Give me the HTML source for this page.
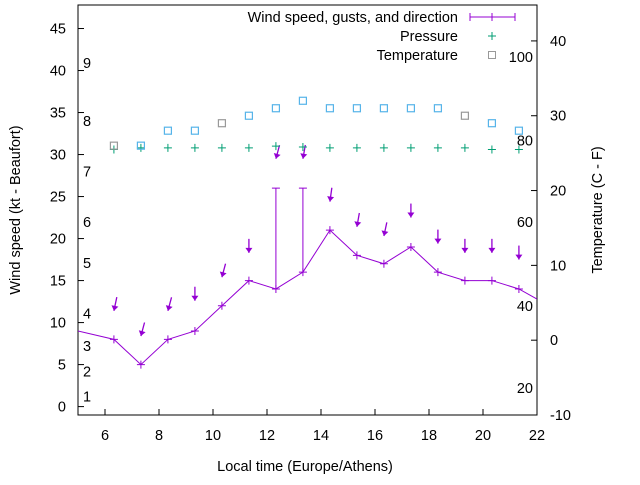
<!DOCTYPE html>
<html><head><meta charset="utf-8"><style>
body{margin:0;background:#fff}
svg text{font-family:"Liberation Sans",sans-serif;font-size:14.5px;fill:#000}
</style></head><body>
<svg width="640" height="480" viewBox="0 0 640 480" id="chart"></svg>
<script>
const hours=[6.33,7.33,8.33,9.33,10.33,11.33,12.33,13.33,14.33,15.33,16.33,17.33,18.33,19.33,20.33,21.33];
const lineHours=[5,6.33,7.33,8.33,9.33,10.33,11.33,12.33,13.33,14.33,15.33,16.33,17.33,18.33,19.33,20.33,21.33,22];
const windSpeed=[9,8,5,8,9,12,15,14,16,21,18,17,19,16,15,15,14,12.8];
const gustHours=[12.33,13.33];
const gustBase=[14,16];
const gustTop=[26,26];
const arrowPos=[11.4,8.4,11.4,12.6,15.4,18.3,29.5,29.5,24.4,21.4,20.3,22.5,19.4,18.3,18.3,17.5];
const arrowTilt=[-12,-15,-15,0,-15,0,-15,-10,-8,-10,-12,0,0,0,0,0];
const pressure=[30.6,30.8,30.8,30.8,30.8,30.8,31.0,30.9,30.8,30.8,30.8,30.8,30.8,30.8,30.6,30.6,30.8];
const pressureHours=[6.33,7.33,8.33,9.33,10.33,11.33,12.33,13.33,14.33,15.33,16.33,17.33,18.33,19.33,20.33,21.33];
const temperature=[26,26,28,28,29,30,31,32,31,31,31,31,31,30,29,28];
const tempGrey=[1,0,0,0,1,0,0,0,0,0,0,0,0,1,0,0];
const xTicks=[6,8,10,12,14,16,18,20,22];
const yTicks=[0,5,10,15,20,25,30,35,40,45];
const y2Ticks=[-10,0,10,20,30,40];
const beaufortLabels=["1","2","3","4","5","6","7","8","9"];
const beaufortY=[1.2,4.2,7.2,11.1,17.1,22,28,34,40.9];
const humidLabels=["20","40","60","80","100"];
const humidY=[2.2,12,22,31.7,41.6];

const L=78,R=537,T=5,B=415;
const X=h=>L+(h-5)*(R-L)/17;
const Y=v=>B-(v+1)*(B-T)/48.8;
const Y2=v=>B-(v+10)*(B-T)/54.8;
const svg=document.getElementById('chart');
const NS="http://www.w3.org/2000/svg";
function mk(tag,attrs,parent){const e=document.createElementNS(NS,tag);for(const k in attrs)e.setAttribute(k,attrs[k]);(parent||svg).appendChild(e);return e;}
const P="#9400d3";

const frame=mk('rect',{x:L,y:T,width:R-L,height:B-T,fill:'none',stroke:'#000','stroke-width':1});



xTicks.forEach(t=>{
 const l=mk('line',{x1:X(t),x2:X(t),y1:B,y2:B-6,stroke:'#000'});
 
 
 const tx=mk('text',{x:X(t),y:B+25,'text-anchor':'middle'});tx.textContent=t;
 
 
});
yTicks.forEach(t=>{
 const l=mk('line',{x1:L,x2:L+6,y1:Y(t),y2:Y(t),stroke:'#000'});
 
 
 const tx=mk('text',{x:L-12,y:Y(t)+5,'text-anchor':'end'});tx.textContent=t;
 
 
});
y2Ticks.forEach(t=>{
 const l=mk('line',{x1:R,x2:R-6,y1:Y2(t),y2:Y2(t),stroke:'#000'});
 
 
 const tx=mk('text',{x:R+13,y:Y2(t)+5});tx.textContent=t;
 
 
});
beaufortLabels.forEach((s,i)=>{
 const tx=mk('text',{x:83,y:Y(beaufortY[i])+5});tx.textContent=s;
 
 
});
humidLabels.forEach((s,i)=>{
 const tx=mk('text',{x:533,y:Y(humidY[i])+5,'text-anchor':'end'});tx.textContent=s;
 
 
});

const xt=mk('text',{x:305,y:471,'text-anchor':'middle'});xt.textContent="Local time (Europe/Athens)";


const yt=mk('text',{x:20,y:210,'text-anchor':'middle',transform:'rotate(-90 20 210)'});yt.textContent="Wind speed (kt - Beaufort)";


const y2t=mk('text',{x:602,y:210,'text-anchor':'middle',transform:'rotate(-90 602 210)'});y2t.textContent="Temperature (C - F)";



const cp=mk('clipPath',{id:'cp'});
mk('rect',{x:L,y:T,width:R-L,height:B-T},cp);
const g=mk('g',{'clip-path':'url(#cp)'});



const pl=mk('polyline',{points:lineHours.map((h,i)=>X(h)+','+Y(windSpeed[i])).join(' '),fill:'none',stroke:P,'stroke-width':1},g);


lineHours.forEach((h,i)=>{
 if(h<=5||h>=22)return;
 const m=mk('path',{d:`M${X(h)-4},${Y(windSpeed[i])}h8M${X(h)},${Y(windSpeed[i])-4}v8`,stroke:P},g);
 
 
});
gustHours.forEach((h,i)=>{
 const m=mk('path',{d:`M${X(h)},${Y(gustBase[i])}V${Y(gustTop[i])}M${X(h)-4},${Y(gustTop[i])}h8`,stroke:P},g);
 
 
});
hours.forEach((h,i)=>{
 const x=X(h),y=Y(arrowPos[i]),a=arrowTilt[i]*Math.PI/180,len=14;
 const tx=x-Math.sin(a)*len,ty=y-Math.cos(a)*len;
 const ar=mk('g',{},g);
 
 
 mk('line',{x1:tx,y1:ty,x2:x,y2:y,stroke:P,'stroke-width':1.3},ar);
 mk('polygon',{points:`${x},${y} ${x-3.5},${y-5} ${x+3.5},${y-5}`,fill:P,transform:`rotate(${-arrowTilt[i]} ${x} ${y})`},ar);
});
pressureHours.forEach((h,i)=>{
 const m=mk('path',{d:`M${X(h)-4},${Y(pressure[i])}h8M${X(h)},${Y(pressure[i])-4}v8`,stroke:'#009e73'},g);
 
 
});
hours.forEach((h,i)=>{
 const m=mk('rect',{x:X(h)-3.5,y:Y2(temperature[i])-3.5,width:7,height:7,fill:'none',stroke:tempGrey[i]?'#999':'#56b4e9','stroke-width':1.2},g);
 
 
});

const lg=mk('g',{});


const l1=mk('text',{x:458,y:22,'text-anchor':'end'},lg);l1.textContent="Wind speed, gusts, and direction";


mk('path',{d:'M470,17h45M470,13v8M515,13v8M488,17h8M492,13v8',stroke:P},lg);
const l2=mk('text',{x:458,y:41,'text-anchor':'end'},lg);l2.textContent="Pressure";


mk('path',{d:'M488,36h8M492,32v8',stroke:'#009e73'},lg);
const l3=mk('text',{x:458,y:60,'text-anchor':'end'},lg);l3.textContent="Temperature";


mk('rect',{x:488.5,y:51.5,width:7,height:7,fill:'none',stroke:'#999'},lg);
</script>
</body></html>
